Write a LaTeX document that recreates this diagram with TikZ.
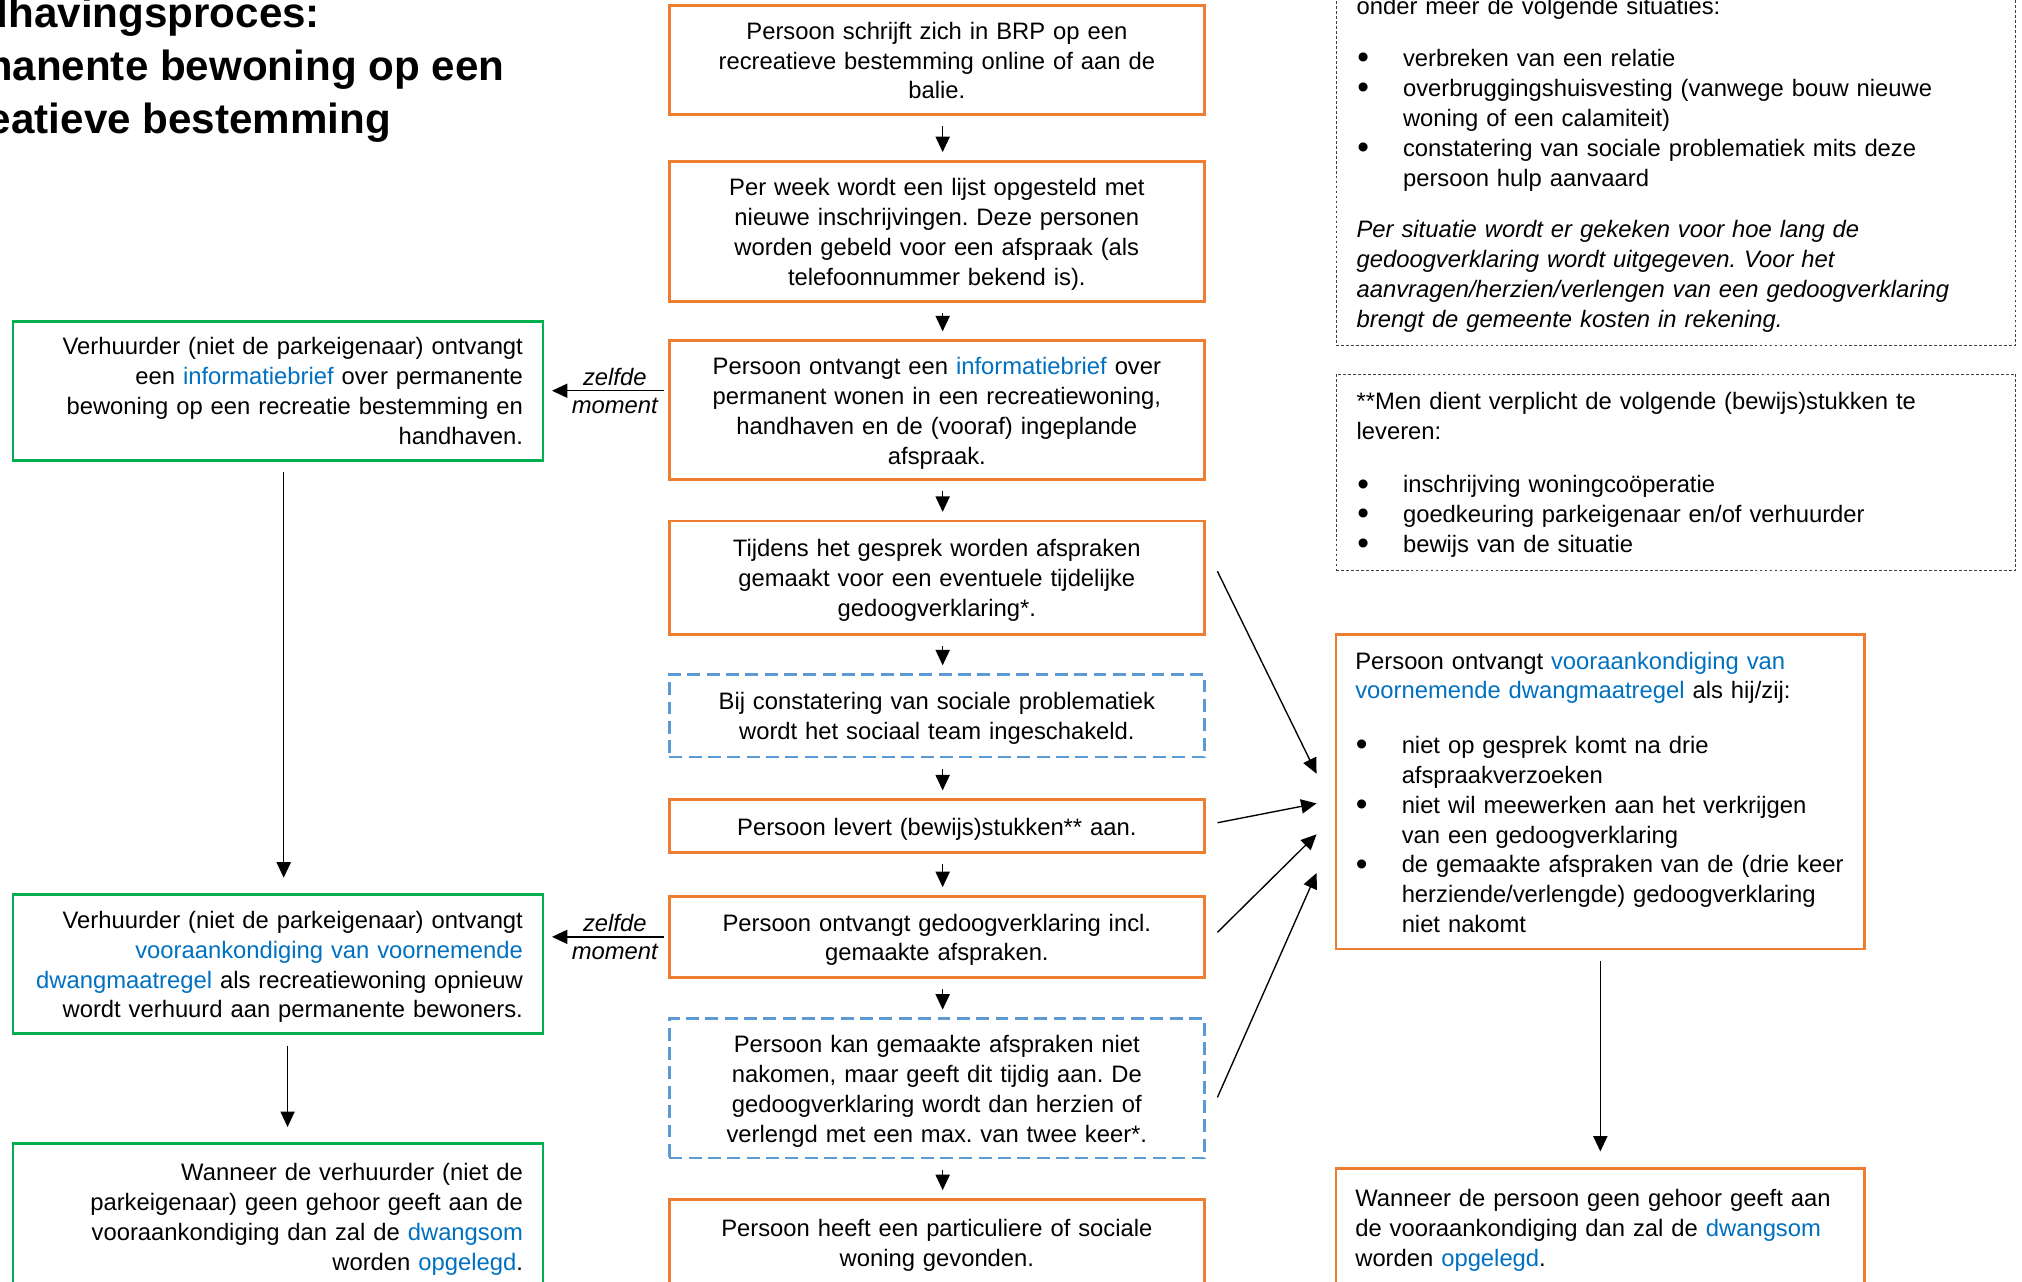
\documentclass[tikz,border=0pt]{standalone}
\usepackage{xcolor}
\usepackage{fontspec}
\setmainfont{Liberation Sans}
\usepackage{tikz}
\usetikzlibrary{calc, positioning, arrows.meta}

\definecolor{boxorange}{HTML}{ED7D31}
\definecolor{boxgreen}{HTML}{00B050}
\definecolor{boxblue}{HTML}{5B9BD5}
\definecolor{linkblue}{HTML}{0070C0}

\newcommand{\boxfont}{\fontsize{10.5}{13.2}\selectfont\frenchspacing}
\newcommand{\bulitem}[1]{\par\noindent\hangindent=0.72cm\hangafter=1\makebox[0.72cm][l]{\hspace{0.01cm}\raisebox{-0.1em}{\scalebox{1.4}{\textbullet}}}#1\strut\par}

\begin{document}
\begin{tikzpicture}[-,
                    base box/.style={line width=1.2pt,inner ysep=0.1cm,font=\boxfont,execute at begin node={\rule{0pt}{12pt}}},
                    orange box/.style={base box,draw=boxorange,text width=7.9cm,inner xsep=0.2cm,align=center,execute at end node=\strut},
                    blue box/.style={orange box,draw=boxblue,dash pattern=on 0.2cm off 0.1cm},
                    green box/.style={base box,draw=boxgreen,text width=7.6cm,inner xsep=0.31cm,align=right,execute at end node=\strut},
                    right box/.style={base box,draw=boxorange,text width=7.6cm,inner xsep=0.3cm,align=left},
                    note box/.style={right box,draw=black!75,densely dotted,line width=0.4pt,text width=9.9cm,inner xsep=0.32cm},
                    title text/.style={inner sep=0pt,anchor=base east,font=\fontsize{18.6}{22}\selectfont\bfseries},
                    flow arrow/.style={->,>={Triangle[length=0.24cm,width=0.22cm]},line width=0.6pt}]

  \useasboundingbox (0,0) rectangle (31.36,-19.88);
  \clip (0,0) rectangle (31.36,-19.88);

  % title
  \node[title text] (t1) at (4.97,-0.42) {Handhavingsproces:};
  \node[title text] (t2) at (7.83,-1.25) {Permanente bewoning op een};
  \node[title text] (t3) at (6.07,-2.07) {recreatieve bestemming};

  % middle column
  \node[orange box,minimum height=1.62cm] (1) at (14.53,-0.93)
    {Persoon schrijft zich in BRP op een\\ recreatieve bestemming online of aan de\\ balie.};
  \node[orange box,minimum height=2.18cm] (2) [shift={(0,-2.66)}] at (1)
    {Per week wordt een lijst opgesteld met\\ nieuwe inschrijvingen. Deze personen\\ worden gebeld voor een afspraak (als\\ telefoonnummer bekend is).};
  \node[orange box,minimum height=2.16cm] (3) [shift={(0,-2.77)}] at (2)
    {Persoon ontvangt een \textcolor{linkblue}{informatiebrief} over\\ permanent wonen in een recreatiewoning,\\ handhaven en de (vooraf) ingeplande\\ afspraak.};
  \node[orange box,minimum height=1.76cm] (4) [shift={(0,-2.60)}] at (3)
    {Tijdens het gesprek worden afspraken\\ gemaakt voor een eventuele tijdelijke\\ gedoogverklaring*.};
  \node[blue box,minimum height=1.28cm] (5) [shift={(0,-2.14)}] at (4)
    {Bij constatering van sociale problematiek\\ wordt het sociaal team ingeschakeld.};
  \node[orange box,minimum height=0.82cm] (6) [shift={(0,-1.71)}] at (5)
    {Persoon levert (bewijs)stukken** aan.};
  \node[orange box,minimum height=1.26cm] (7) [shift={(0,-1.72)}] at (6)
    {Persoon ontvangt gedoogverklaring incl.\\ gemaakte afspraken.};
  \node[blue box,minimum height=2.16cm] (8) [shift={(0,-2.35)}] at (7)
    {Persoon kan gemaakte afspraken niet\\ nakomen, maar geeft dit tijdig aan. De\\ gedoogverklaring wordt dan herzien of\\ verlengd met een max. van twee keer*.};
  \node[orange box,minimum height=1.34cm] (9) [shift={(0,-2.39)}] at (8)
    {Persoon heeft een particuliere of sociale\\ woning gevonden.};

  % left column
  \node[green box,minimum height=2.12cm] (1g) [shift={(-10.22,0.30)}] at (3)
    {Verhuurder (niet de parkeigenaar) ontvangt\\ een \textcolor{linkblue}{informatiebrief} over permanente\\ bewoning op een recreatie bestemming en\\ handhaven.};
  \node[green box,minimum height=2.10cm] (2g) [shift={(0,-8.89)}] at (1g)
    {Verhuurder (niet de parkeigenaar) ontvangt\\ \textcolor{linkblue}{vooraankondiging van voornemende}\\ \textcolor{linkblue}{dwangmaatregel} als recreatiewoning opnieuw\\ wordt verhuurd aan permanente bewoners.};
  \node[green box,minimum height=2.24cm] (3g) [shift={(0,-3.91)}] at (2g)
    {Wanneer de verhuurder (niet de\\ parkeigenaar) geen gehoor geeft aan de\\ vooraankondiging dan zal de \textcolor{linkblue}{dwangsom}\\ worden \textcolor{linkblue}{opgelegd}.};

  % right column
  \node[note box,minimum height=5.70cm] (1n) at (25.99,-2.51)
    {onder meer de volgende situaties:\par\vspace{0.34cm}
     \bulitem{verbreken van een relatie}
     \bulitem{overbruggingshuisvesting (vanwege bouw nieuwe\newline woning of een calamiteit)}
     \bulitem{constatering van sociale problematiek mits deze\newline persoon hulp aanvaard}
     \vspace{0.33cm}
     {\itshape Per situatie wordt er gekeken voor hoe lang de\\ gedoogverklaring wordt uitgegeven. Voor het\\ aanvragen/herzien/verlengen van een gedoogverklaring\\ brengt de gemeente kosten in rekening.\strut\par}};
  \node[note box,minimum height=3.04cm] (2n) [shift={(0,-4.81)}] at (1n)
    {**Men dient verplicht de volgende (bewijs)stukken te\\ leveren:\par\vspace{0.36cm}
     \bulitem{inschrijving woningcoöperatie}
     \bulitem{goedkeuring parkeigenaar en/of verhuurder}
     \bulitem{bewijs van de situatie}};
  \node[right box,minimum height=4.88cm] (1r) [shift={(10.29,0.53)}] at (6)
    {Persoon ontvangt \textcolor{linkblue}{vooraankondiging van}\\ \textcolor{linkblue}{voornemende dwangmaatregel} als hij/zij:\par\vspace{0.38cm}
     \bulitem{niet op gesprek komt na drie\newline afspraakverzoeken}
     \bulitem{niet wil meewerken aan het verkrijgen\newline van een gedoogverklaring}
     \bulitem{de gemaakte afspraken van de (drie keer\newline herziende/verlengde) gedoogverklaring\newline niet nakomt}};
  \node[right box,minimum height=1.84cm] (2r) [shift={(0,-6.76)}] at (1r)
    {Wanneer de persoon geen gehoor geeft aan\\ de vooraankondiging dan zal de \textcolor{linkblue}{dwangsom}\\ worden \textcolor{linkblue}{opgelegd}.\strut};

  \path[flow arrow,shorten <=0.16cm,shorten >=0.12cm]
  ([xshift=0.09cm]1.south) edge ([xshift=0.09cm]2.north)
  ([xshift=0.09cm]2.south) edge ([xshift=0.09cm]3.north)
  ([xshift=0.09cm]3.south) edge ([xshift=0.09cm]4.north)
  ([xshift=0.09cm]4.south) edge ([xshift=0.09cm]5.north)
  ([xshift=0.09cm]5.south) edge ([xshift=0.09cm]6.north)
  ([xshift=0.09cm]6.south) edge ([xshift=0.09cm]7.north)
  ([xshift=0.09cm]7.south) edge ([xshift=0.09cm]8.north)
  ([xshift=0.09cm]8.south) edge ([xshift=0.09cm]9.north);

  \path[flow arrow,shorten <=0.17cm,shorten >=0.24cm]
  ([xshift=0.09cm]1g.south) edge ([xshift=0.09cm]2g.north)
  ([xshift=0.15cm]2g.south) edge ([xshift=0.15cm]3g.north)
  (1r.south) edge (2r.north);

  \draw[flow arrow,shorten <=0.06cm,shorten >=0.12cm] (3.west |- 1g.east) -- (1g.east)
    node[pos=0.43,above,inner sep=2pt,font=\boxfont\itshape] {zelfde}
    node[pos=0.43,below,inner sep=3pt,font=\boxfont\itshape] {moment};
  \draw[flow arrow,shorten <=0.06cm,shorten >=0.12cm] (7.west) -- (2g.east |- 7.west)
    node[pos=0.43,above,inner sep=2pt,font=\boxfont\itshape] {zelfde}
    node[pos=0.43,below,inner sep=3pt,font=\boxfont\itshape] {moment};

  \path[flow arrow]
  ([xshift=0.18cm,yshift=0.10cm]4.east) edge ([xshift=-0.28cm,yshift=0.28cm]1r.west)
  ([xshift=0.18cm,yshift=0.05cm]6.east) edge ([xshift=-0.28cm,yshift=-0.18cm]1r.west)
  ([xshift=0.18cm,yshift=0.07cm]7.east) edge ([xshift=-0.28cm,yshift=-0.66cm]1r.west)
  ([xshift=0.18cm,yshift=-0.14cm]8.east) edge ([xshift=-0.28cm,yshift=-1.26cm]1r.west);

\end{tikzpicture}
\end{document}
